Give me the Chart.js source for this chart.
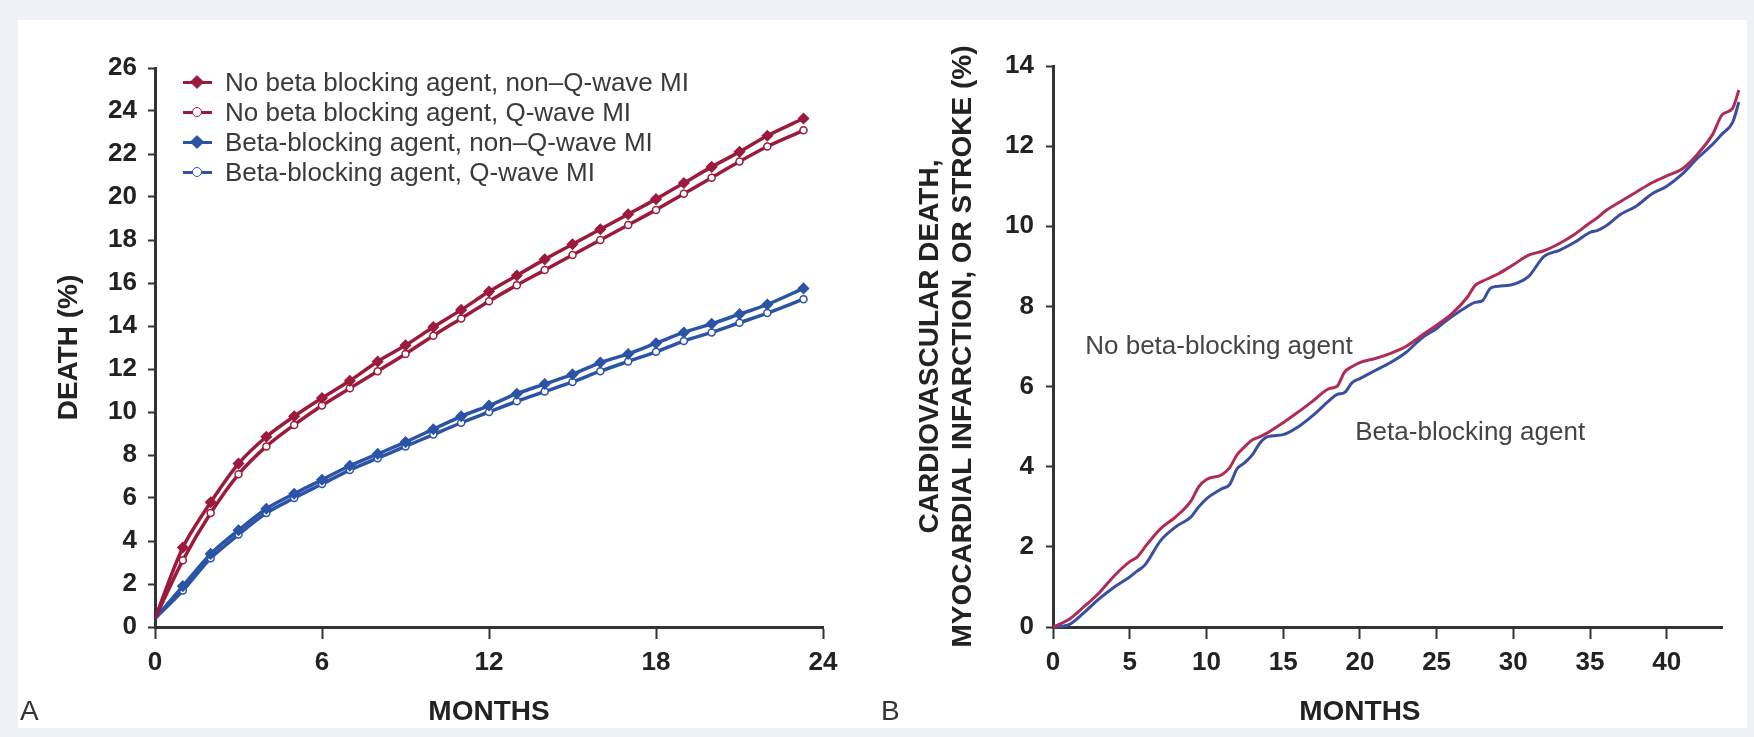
<!DOCTYPE html>
<html lang="en">
<head>
  <meta charset="UTF-8">
  <title>Beta blockers and MI outcomes</title>
  <script src="https://cdn.jsdelivr.net/npm/chart.js"></script>
  <style>
    body {
      margin: 0;
      background: #eef1f5;
      font-family: "Liberation Sans", Arial, Helvetica, sans-serif;
    }
    #page {
      position: relative;
      width: 1754px;
      height: 737px;
    }
    #sheet {
      position: absolute;
      left: 18px;
      top: 20px;
      width: 1729px;
      height: 708px;
      background: #fff;
    }
    .holder {
      position: absolute;
      top: 0;
      width: 877px;
      height: 737px;
    }
    .letter {
      position: absolute;
      font-size: 28px;
      color: #333;
      line-height: 1;
    }
    #legendA {
      position: absolute;
      left: 183px;
      top: 67px;
      font-size: 26px;
      color: #3a3a3a;
    }
    #legendA .row {
      height: 30px;
      line-height: 30px;
      white-space: nowrap;
    }
    #legendA .sw {
      position: relative;
      display: inline-block;
      width: 29px;
      height: 30px;
      vertical-align: top;
      margin-right: 13px;
    }
    #legendA .ln {
      position: absolute;
      left: 0;
      right: 0;
      top: 14px;
      height: 3px;
    }
    #legendA .mk {
      position: absolute;
      left: 9px;
      top: 10px;
      width: 8px;
      height: 8px;
      border: 1.5px solid;
      border-radius: 50%;
    }
    #legendA .mk.filled {
      transform: rotate(45deg);
      border-radius: 1px;
    }
  </style>
</head>
<body>
  <div id="page">
    <div id="sheet"></div>
    <div class="holder" style="left:0"><canvas id="chartA" width="877" height="737"></canvas></div>
    <div class="holder" style="left:877px"><canvas id="chartB" width="877" height="737"></canvas></div>
    <div id="legendA"></div>
    <div class="letter" style="left:20px; top:697px;">A</div>
    <div class="letter" style="left:881px; top:697px;">B</div>
  </div>

  <script>
    // ---- panel A data (death %, by month) ----
    var monthsA = [0, 1, 2, 3, 4, 5, 6, 7, 8, 9, 10, 11, 12, 13, 14, 15, 16, 17, 18, 19, 20, 21, 22, 23.3];
    var noBetaNonQ = [0.4, 3.7, 5.8, 7.6, 8.85, 9.8, 10.65, 11.45, 12.35, 13.1, 13.95, 14.75, 15.6, 16.35, 17.1, 17.8, 18.5, 19.2, 19.9, 20.65, 21.4, 22.1, 22.85, 23.65];
    var noBetaQ    = [0.4, 3.1, 5.3, 7.1, 8.4, 9.4, 10.3, 11.1, 11.9, 12.7, 13.55, 14.35, 15.15, 15.9, 16.6, 17.3, 18.0, 18.7, 19.4, 20.15, 20.9, 21.65, 22.35, 23.1];
    var betaNonQ   = [0.4, 1.9, 3.4, 4.5, 5.5, 6.2, 6.85, 7.5, 8.05, 8.6, 9.2, 9.8, 10.3, 10.85, 11.3, 11.75, 12.3, 12.7, 13.2, 13.7, 14.1, 14.55, 15.0, 15.75];
    var betaQ      = [0.4, 1.7, 3.2, 4.3, 5.3, 6.0, 6.65, 7.3, 7.85, 8.4, 8.95, 9.5, 10.0, 10.5, 10.95, 11.4, 11.9, 12.35, 12.8, 13.3, 13.7, 14.15, 14.6, 15.25];
    var seriesNamesA = [
      'No beta blocking agent, non\u2013Q-wave MI',
      'No beta blocking agent, Q-wave MI',
      'Beta-blocking agent, non\u2013Q-wave MI',
      'Beta-blocking agent, Q-wave MI'
    ];
    var ticksA_y = [0, 26, 2];
    var ticksA_x = [0, 24, 6];

    // ---- panel B data (CV death, MI or stroke %, by month) ----
    var monthsB = [0, 1, 2, 3, 4, 5, 5.5, 6, 7, 8, 9, 9.5, 10, 11, 11.5, 12, 12.5, 13, 13.5, 14, 15, 16, 17, 18, 18.5, 19, 19.5, 20, 21, 22, 23, 24, 25, 26, 27, 27.5, 28, 28.5, 29, 30, 31, 32, 33, 34, 35, 35.5, 36, 37, 38, 39, 40, 41, 42, 43, 43.6, 44.3, 44.7];
    var noBetaB = [0, 0.18, 0.5, 0.85, 1.28, 1.63, 1.75, 2.0, 2.45, 2.75, 3.15, 3.5, 3.68, 3.8, 3.97, 4.3, 4.5, 4.67, 4.75, 4.85, 5.1, 5.37, 5.66, 5.95, 6.0, 6.36, 6.5, 6.6, 6.7, 6.83, 7.0, 7.27, 7.53, 7.82, 8.23, 8.52, 8.63, 8.72, 8.81, 9.04, 9.28, 9.39, 9.57, 9.8, 10.09, 10.22, 10.38, 10.62, 10.85, 11.08, 11.26, 11.43, 11.8, 12.3, 12.78, 12.95, 13.4];
    var betaB   = [0, 0.05, 0.35, 0.7, 1.0, 1.25, 1.4, 1.55, 2.15, 2.5, 2.75, 3.0, 3.2, 3.45, 3.55, 3.95, 4.1, 4.3, 4.6, 4.75, 4.8, 5.0, 5.3, 5.65, 5.8, 5.85, 6.1, 6.2, 6.4, 6.6, 6.85, 7.2, 7.45, 7.75, 8.0, 8.1, 8.15, 8.45, 8.5, 8.55, 8.75, 9.25, 9.4, 9.6, 9.85, 9.9, 10.0, 10.3, 10.5, 10.8, 11.0, 11.3, 11.7, 12.05, 12.3, 12.6, 13.1];
    var seriesNamesB = ['No beta-blocking agent', 'Beta-blocking agent'];
    var noteMonth = [2.1, 19.7];
    var noteValue = [7.0, 4.84];
    var ticksB_y = [0, 14, 2];
    var ticksB_x = [0, 43.6, 5];
    var titleMonthB = 20;   // x title of panel B sits left of the axis centre

    var FONT = '"Liberation Sans", Arial, Helvetica, sans-serif';
    var RED_A = '#9c1a3c', BLUE_A = '#2b53a6';
    var RED_B = '#b02c55', BLUE_B = '#3b4f9f';

    function pts(xs, ys) {
      return xs.map(function(x, i) { return { x: x, y: ys[i] }; });
    }

    function lineSet(label, xs, ys, color, filled) {
      return {
        label: label,
        data: pts(xs, ys),
        borderColor: color,
        backgroundColor: filled ? color : '#fff',
        borderWidth: 3.5,
        tension: 0.3,
        pointStyle: filled ? 'rectRot' : 'circle',
        pointRadius: function(c) { return c.dataIndex === 0 ? 0 : (filled ? 5 : 3.5); },
        pointBorderWidth: 1.5,
        pointBorderColor: color,
        pointBackgroundColor: filled ? color : '#fff'
      };
    }

    function axis(range, opts) {
      return Object.assign({
        type: 'linear',
        min: range[0],
        max: range[1],
        ticks: {
          stepSize: range[2],
          includeBounds: false,
          color: '#222',
          font: { family: FONT, size: 26, weight: 'bold' }
        },
        grid: { drawOnChartArea: false, drawTicks: true, tickLength: 7, tickWidth: 2, tickColor: '#333' },
        border: { display: true, color: '#333', width: 3 },
        title: { display: true, color: '#222', font: { family: FONT, size: 28, weight: 'bold' } }
      }, opts);
    }

    function setTitle(scale, text, padding) {
      scale.title.text = text;
      scale.title.padding = padding;
      return scale;
    }

    // ---- chart A ----
    var xA = axis(ticksA_x, { afterFit: function(s) { s.height = 110; } });
    xA.grid.tickLength = 12;
    xA.ticks.padding = 8;
    setTitle(xA, 'MONTHS', { top: 0, bottom: 8 });
    var yA = axis(ticksA_y, { afterFit: function(s) { s.width = 155; } });
    yA.ticks.padding = 11;
    setTitle(yA, 'DEATH (%)', { top: 52, bottom: 0 });

    var chartA = new Chart(document.getElementById('chartA'), {
      type: 'line',
      data: {
        datasets: [
          lineSet(seriesNamesA[0], monthsA, noBetaNonQ, RED_A, true),
          lineSet(seriesNamesA[1], monthsA, noBetaQ, RED_A, false),
          lineSet(seriesNamesA[2], monthsA, betaNonQ, BLUE_A, true),
          lineSet(seriesNamesA[3], monthsA, betaQ, BLUE_A, false)
        ]
      },
      options: {
        responsive: false,
        animation: false,
        layout: { padding: { left: 0, right: 54, top: 68, bottom: 0 } },
        plugins: { legend: { display: false }, tooltip: { enabled: false } },
        scales: { x: xA, y: yA }
      }
    });

    // html legend for panel A (line with marker, then label)
    var legendBox = document.getElementById('legendA');
    chartA.data.datasets.forEach(function(ds) {
      var filled = ds.pointStyle === 'rectRot';
      var row = document.createElement('div');
      row.className = 'row';
      row.innerHTML = '<span class="sw"><i class="ln" style="background:' + ds.borderColor + '"></i>' +
        '<i class="mk' + (filled ? ' filled' : '') + '" style="border-color:' + ds.borderColor +
        ';background:' + (filled ? ds.borderColor : '#fff') + '"></i></span>' + ds.label;
      legendBox.appendChild(row);
    });

    // ---- chart B ----
    // curve names next to the lines, and the x title (drawn off-centre like the original)
    var curveNotes = {
      id: 'curveNotes',
      afterDraw: function(chart) {
        var ctx = chart.ctx, x = chart.scales.x, y = chart.scales.y;
        ctx.save();
        ctx.font = '26px ' + FONT;
        ctx.fillStyle = '#444';
        ctx.textBaseline = 'middle';
        seriesNamesB.forEach(function(t, i) {
          ctx.fillText(t, x.getPixelForValue(noteMonth[i]), y.getPixelForValue(noteValue[i]));
        });
        ctx.font = 'bold 28px ' + FONT;
        ctx.fillStyle = '#222';
        ctx.textAlign = 'center';
        ctx.fillText('MONTHS', x.getPixelForValue(titleMonthB), x.bottom - 25);
        ctx.restore();
      }
    };

    var xB = axis(ticksB_x, {
      bounds: 'data',
      afterFit: function(s) { s.height = 110; },
      // range set here (not as min/max) so the curves may run a little past the axis end
      afterDataLimits: function(s) { s.min = ticksB_x[0]; s.max = ticksB_x[1]; },
      afterBuildTicks: function(s) {
        s.ticks = s.ticks.filter(function(t) { return t.value <= ticksB_x[1]; });
      }
    });
    delete xB.min;
    delete xB.max;
    xB.grid.tickLength = 12;
    xB.ticks.padding = 8;
    xB.title.display = false;
    var yB = axis(ticksB_y, { afterFit: function(s) { s.width = 176; } });
    yB.ticks.padding = 12;
    setTitle(yB, ['CARDIOVASCULAR DEATH,', 'MYOCARDIAL INFARCTION, OR STROKE (%)'], { top: 36, bottom: 0 });

    new Chart(document.getElementById('chartB'), {
      type: 'line',
      data: {
        datasets: [
          { label: seriesNamesB[0], data: pts(monthsB, noBetaB), borderColor: RED_B, borderWidth: 3, pointRadius: 0, cubicInterpolationMode: 'monotone', clip: false },
          { label: seriesNamesB[1], data: pts(monthsB, betaB), borderColor: BLUE_B, borderWidth: 3, pointRadius: 0, cubicInterpolationMode: 'monotone', clip: false }
        ]
      },
      options: {
        responsive: false,
        animation: false,
        layout: { padding: { left: 0, right: 32, top: 66, bottom: 0 } },
        plugins: { legend: { display: false }, tooltip: { enabled: false } },
        scales: { x: xB, y: yB }
      },
      plugins: [curveNotes]
    });
  </script>
</body>
</html>
